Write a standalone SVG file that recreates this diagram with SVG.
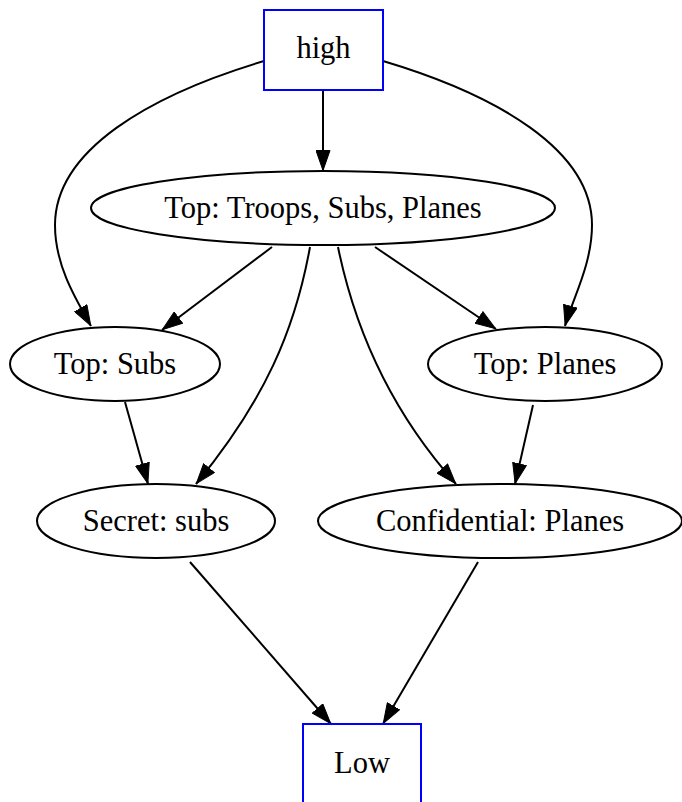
<svg xmlns="http://www.w3.org/2000/svg" width="682" height="802" viewBox="0 0 682 802">
<defs>
<style>
.n ellipse{fill:none;stroke:#000;stroke-width:2}
.n rect{fill:none;stroke:#0000ff;stroke-width:2}
.n text{font-family:"Liberation Serif","Times New Roman",serif;font-size:30.5px;fill:#000;text-anchor:middle}
.e path{fill:none;stroke:#000;stroke-width:2;marker-end:url(#ah)}
</style>
<marker id="ah" markerWidth="21" markerHeight="15" refX="21" refY="7.5" orient="auto" markerUnits="userSpaceOnUse">
<path d="M0.5,0.5 L20.5,7.5 L0.5,14.5 Z" fill="#000" stroke="#000" stroke-width="1"/>
</marker>
</defs>
<rect width="682" height="802" fill="#fff"/>
<g class="e" id="edges">
<path d="M323,90 L323,171"/>
<path d="M264,61 C150,95 55,150 55,225 C55,265 75,298 91,326"/>
<path d="M383,61 C497,95 592,150 592,225 C592,265 572,300 565,326"/>
<path d="M272,247 L162,330"/>
<path d="M310,247 C295,330 265,400 196,484"/>
<path d="M338,247 C355,330 390,410 456,484"/>
<path d="M375,247 L496,329"/>
<path d="M125,402 L148,484"/>
<path d="M533,405 L515,484"/>
<path d="M190,562 L331,724"/>
<path d="M478,562 L383,724"/>
</g>
<g class="n" id="high"><rect x="264" y="10" width="119" height="80"/><text x="323.5" y="58">high</text></g>
<g class="n" id="top_all"><ellipse cx="323" cy="208" rx="232" ry="37"/><text x="323" y="218">Top: Troops, Subs, Planes</text></g>
<g class="n" id="top_subs"><ellipse cx="115" cy="364" rx="105" ry="37"/><text x="115" y="374">Top: Subs</text></g>
<g class="n" id="top_planes"><ellipse cx="545" cy="364" rx="117" ry="37"/><text x="545" y="374">Top: Planes</text></g>
<g class="n" id="secret_subs"><ellipse cx="156" cy="521" rx="119" ry="37"/><text x="156" y="531">Secret: subs</text></g>
<g class="n" id="conf_planes"><ellipse cx="500" cy="521" rx="182" ry="37"/><text x="500" y="531">Confidential: Planes</text></g>
<g class="n" id="low"><rect x="303" y="724" width="118" height="82"/><text x="362" y="773">Low</text></g>
</svg>
